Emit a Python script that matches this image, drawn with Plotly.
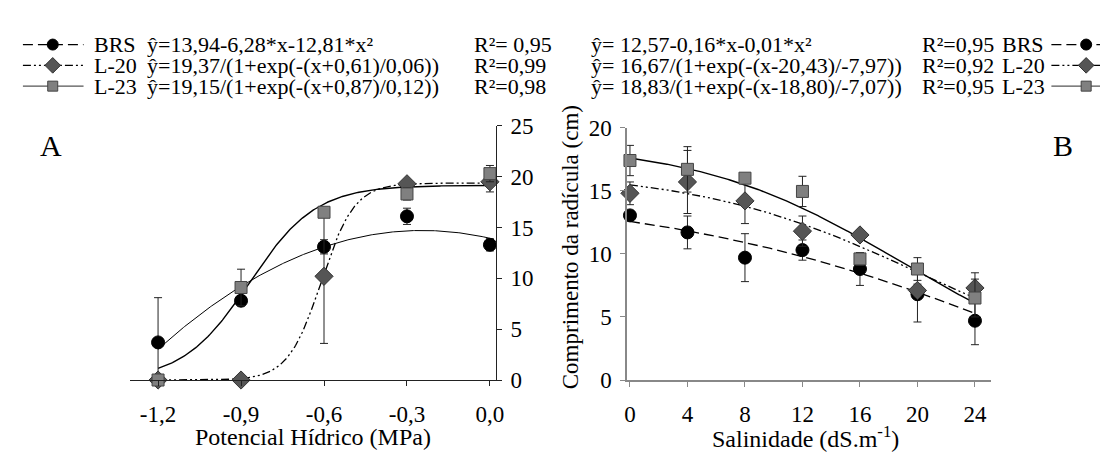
import numpy as np
import plotly.graph_objects as go

W, H = 1108, 454

# ---------------- data ----------------
series = ["BRS", "L-20", "L-23"]

# Panel A: Potencial hídrico (MPa)
xa = [-1.2, -0.9, -0.6, -0.3, 0.0]
xa_ticktext = ["-1,2", "-0,9", "-0,6", "-0,3", "0,0"]
brs_a = [3.7, 7.8, 13.1, 16.1, 13.3]
brs_a_err = [4.4, 0.5, 0.7, 0.8, 0.6]
l20_a = [0.0, 0.0, 10.2, 19.3, 19.5]
l20_a_err = [0.0, 0.0, 6.6, 0.4, 1.0]
l23_a = [0.0, 9.1, 16.5, 18.3, 20.3]
l23_a_err = [0.0, 1.8, 0.5, 0.6, 0.8]

# Panel B: Salinidade (dS.m-1)
xb = [0, 4, 8, 12, 16, 20, 24]
brs_b = [13.05, 11.7, 9.7, 10.3, 8.8, 6.8, 4.7]
brs_b_err = [0.4, 1.3, 1.9, 0.8, 1.3, 2.2, 1.9]
l20_b = [14.8, 15.7, 14.2, 11.8, 11.5, 7.1, 7.3]
l20_b_err = [0.9, 2.5, 1.8, 1.2, 0.3, 0.5, 1.2]
l23_b = [17.4, 16.7, 16.0, 14.95, 9.6, 8.8, 6.5]
l23_b_err = [1.2, 1.8, 0.2, 1.2, 0.5, 0.9, 1.5]

# fitted equations (from the legend)
brs_a_coef = [13.94, -6.28, -12.81]          # a + b x + c x^2
l20_a_par = [19.37, -0.61, 0.06]             # a / (1 + exp(-(x - x0)/b))
l23_a_par = [19.15, -0.87, 0.12]
brs_b_coef = [12.57, -0.16, -0.006]
l20_b_par = [16.67, 20.43, -7.97]
l23_b_par = [18.83, 18.80, -7.07]

eq_a = ["ŷ=13,94-6,28*x-12,81*x²",
        "ŷ=19,37/(1+exp(-(x+0,61)/0,06))",
        "ŷ=19,15/(1+exp(-(x+0,87)/0,12))"]
r2_a = ["R²= 0,95", "R²=0,99", "R²=0,98"]
eq_b = ["ŷ= 12,57-0,16*x-0,01*x²",
        "ŷ= 16,67/(1+exp(-(x-20,43)/-7,97))",
        "ŷ= 18,83/(1+exp(-(x-18,80)/-7,07))"]
r2_b = ["R²=0,95", "R²=0,92", "R²=0,95"]


def quad(x, c):
    x = np.asarray(x)
    return c[0] + c[1] * x + c[2] * x ** 2


def logi(x, p):
    x = np.asarray(x)
    return p[0] / (1 + np.exp(-(x - p[1]) / p[2]))


# ---------------- styles ----------------
FONT = "'Times New Roman', 'Liberation Serif', 'DejaVu Serif', serif"
line_style = {
    "BRS": dict(color="black", width=1.3, dash="10px,5px"),
    "L-20": dict(color="black", width=1.3, dash="8px,3px,2px,3px,2px,3px"),
    "L-23": dict(color="black", width=1.4, dash="solid"),
}
marker_style = {
    "BRS": dict(symbol="circle", size=13, color="black", line=dict(color="black", width=1)),
    "L-20": dict(symbol="diamond", size=14, color="#555555", line=dict(color="#333333", width=1)),
    "L-23": dict(symbol="square", size=12, color="#808080", line=dict(color="#444444", width=1)),
}

fig = go.Figure()

# ---------------- panel A ----------------
xca = np.linspace(-1.2, 0.0, 300)
curves_a = {
    "BRS": quad(xca, brs_a_coef),
    "L-20": logi(xca, l20_a_par),
    "L-23": logi(xca, l23_a_par),
}
a_line = dict(line_style)
a_line["BRS"] = dict(color="black", width=1.0, dash="solid")
for s in series:
    fig.add_trace(go.Scatter(x=xca, y=curves_a[s], mode="lines", line=a_line[s],
                             xaxis="x", yaxis="y", showlegend=False, hoverinfo="skip"))

vals_a = {"BRS": (brs_a, brs_a_err), "L-20": (l20_a, l20_a_err), "L-23": (l23_a, l23_a_err)}
for s in series:
    v, e = vals_a[s]
    fig.add_trace(go.Scatter(x=xa, y=v, mode="markers", marker=marker_style[s],
                             error_y=dict(type="data", array=e, color="#222222", thickness=1, width=4),
                             xaxis="x", yaxis="y", showlegend=False, cliponaxis=False))

# ---------------- panel B ----------------
xcb = np.linspace(0, 24, 300)
curves_b = {
    "BRS": quad(xcb, brs_b_coef),
    "L-20": logi(xcb, l20_b_par),
    "L-23": logi(xcb, l23_b_par),
}
for s in series:
    fig.add_trace(go.Scatter(x=xcb, y=curves_b[s], mode="lines", line=line_style[s],
                             xaxis="x2", yaxis="y2", showlegend=False, hoverinfo="skip"))

vals_b = {"BRS": (brs_b, brs_b_err), "L-20": (l20_b, l20_b_err), "L-23": (l23_b, l23_b_err)}
for s in series:
    v, e = vals_b[s]
    fig.add_trace(go.Scatter(x=xb, y=v, mode="markers", marker=marker_style[s],
                             error_y=dict(type="data", array=e, color="#222222", thickness=1, width=4),
                             xaxis="x2", yaxis="y2", showlegend=False, cliponaxis=False))

# ---------------- legend keys (overlay axis in pixel units) ----------------
rows_y = [26, 48, 70]
left_key = (12, 73, 42)
right_key = (1047, 1108, 1082)
for i, s in enumerate(series):
    for x0, x1, xm in (left_key, right_key):
        fig.add_trace(go.Scatter(x=[x0, x1], y=[rows_y[i], rows_y[i]], mode="lines",
                                 line=dict(color="black" if s != "L-23" else "#555555", width=1.2,
                                           dash=line_style[s]["dash"]),
                                 xaxis="x3", yaxis="y3", showlegend=False, hoverinfo="skip"))
        fig.add_trace(go.Scatter(x=[xm], y=[rows_y[i]], mode="markers",
                                 marker={**marker_style[s], "size": marker_style[s]["size"] - 2},
                                 xaxis="x3", yaxis="y3", showlegend=False, hoverinfo="skip"))

ann = []


def txt(x, y, t, size=22, xanchor="left", yanchor="middle", angle=0):
    ann.append(dict(x=x / W, y=1 - y / H, xref="paper", yref="paper", text=t, showarrow=False,
                    xanchor=xanchor, yanchor=yanchor, textangle=angle,
                    font=dict(family=FONT, size=size, color="black")))


for i, s in enumerate(series):
    y = rows_y[i]
    txt(82, y, s)
    txt(135, y, eq_a[i])
    txt(464, y, r2_a[i])
    txt(582, y, eq_b[i])
    txt(915, y, r2_b[i])
    txt(995, y, s)

txt(40, 133, "A", size=30, xanchor="center")
txt(1059, 133, "B", size=30, xanchor="center")
txt(304, 441, "Potencial Hídrico (MPa)", size=24, xanchor="center")
txt(800, 441, "Salinidade (dS.m<sup>-1</sup>)", size=24, xanchor="center")
txt(563, 240, "Comprimento da radícula (cm)", size=23, xanchor="center", angle=-90)

tickfont = dict(family=FONT, size=23, color="black")

fig.update_layout(
    width=W, height=H,
    margin=dict(l=0, r=0, t=0, b=0),
    font=dict(family=FONT, size=22, color="black"),
    paper_bgcolor="white", plot_bgcolor="rgba(0,0,0,0)",
    annotations=ann,
    xaxis=dict(domain=[120 / W, 492 / W], range=[-1.3006, 0.036], anchor="y",
               tickvals=xa, ticktext=xa_ticktext, ticks="outside", ticklen=5,
               showline=True, linecolor="#222222", linewidth=1.2, tickcolor="#222222",
               showgrid=False, zeroline=False, tickfont=tickfont, ticklabelstandoff=8),
    yaxis=dict(domain=[1 - 381 / H, 1 - 112 / H], range=[0, 25], anchor="free",
               position=488 / W, side="right", tickvals=[0, 5, 10, 15, 20, 25],
               ticks="outside", ticklen=5, showline=True, linecolor="#222222", linewidth=1.2,
               tickcolor="#222222", showgrid=False, zeroline=False, tickfont=tickfont,
               ticklabelstandoff=4),
    xaxis2=dict(domain=[620 / W, 986 / W], range=[-0.2, 25.1], anchor="y2",
                tickvals=xb, ticks="outside", ticklen=5, showline=True, linecolor="#888888",
                linewidth=1.5, tickcolor="#888888", showgrid=False, zeroline=False,
                tickfont=tickfont, ticklabelstandoff=8),
    yaxis2=dict(domain=[1 - 381 / H, 1 - 114 / H], range=[0, 20], anchor="x2",
                tickvals=[0, 5, 10, 15, 20], ticks="outside", ticklen=5, showline=True,
                linecolor="#888888", linewidth=1.5, tickcolor="#888888", showgrid=False,
                zeroline=False, tickfont=tickfont, ticklabelstandoff=4),
    xaxis3=dict(domain=[0, 1], range=[0, W], anchor="y3", visible=False, fixedrange=True),
    yaxis3=dict(domain=[0, 1], range=[H, 0], anchor="x3", visible=False, fixedrange=True),
)

fig.write_html("out.html")
